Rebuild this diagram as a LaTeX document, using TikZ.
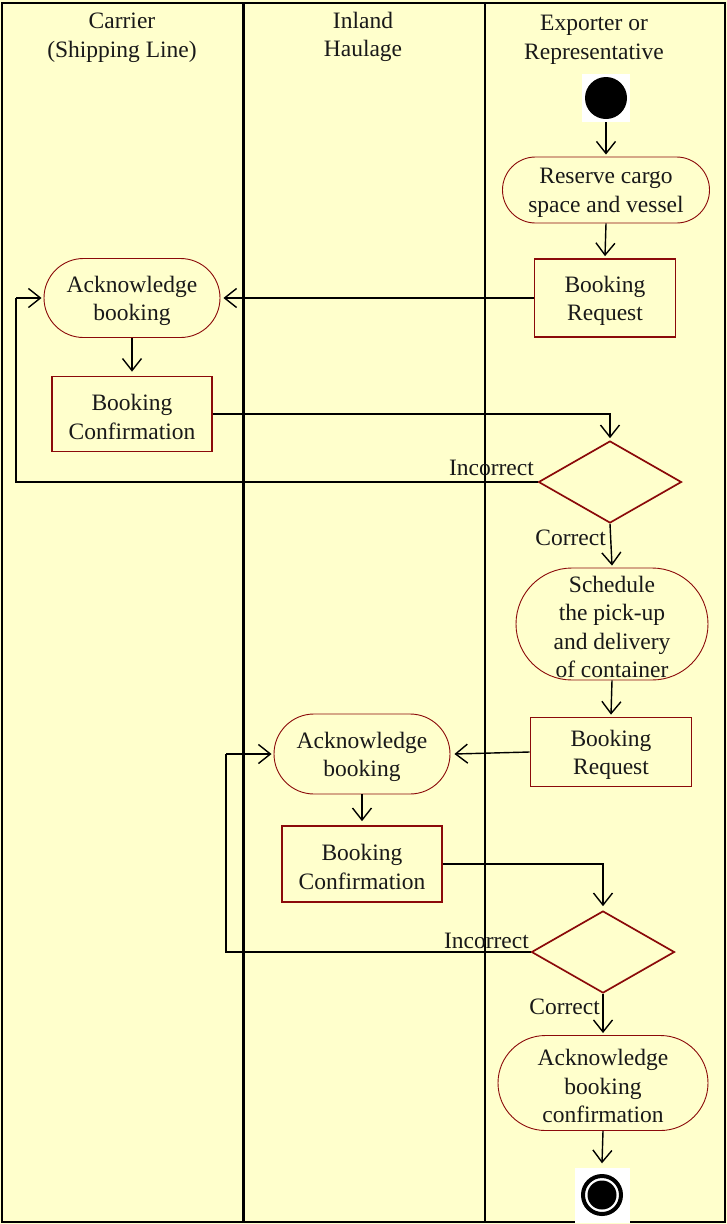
\documentclass[tikz,border=0pt]{standalone}
\usepackage{fontspec}
\setmainfont{Liberation Serif}
\usetikzlibrary{arrows.meta,shapes.geometric}
\definecolor{bg}{HTML}{FFFFCC}
\definecolor{dred}{HTML}{8B0A0A}
\newcommand\dl[1]{\raisebox{-3pt}[\height][\depth]{#1}}
\begin{document}
\begin{tikzpicture}[x=1pt,y=-1pt,
  txt/.style={font=\fontsize{23.5}{28.5}\selectfont, align=center, inner sep=0pt, text=black!90},
  act/.style={txt, draw=dred, line width=0.9pt, fill=bg},
  rect/.style={txt, draw=dred, line width=1.7pt, fill=bg},
  dec/.style={diamond, draw=dred, line width=1.7pt, fill=bg, inner sep=0pt, minimum width=143pt, minimum height=82pt},
  conn/.style={line width=1.4pt, -{Straight Barb[length=12pt,width=19pt,line width=1.4pt]}},
  wire/.style={line width=1.4pt},
  lane/.style={line width=2pt}
]
\useasboundingbox (0,0) rectangle (727,1224);
\fill[bg] (0,0) rectangle (727,1224);
\draw[lane] (2,3) rectangle (725,1222);
\draw[line width=3pt] (243,3) -- (243,1222);
\draw[lane] (485,3) -- (485,1222);

% headers
\node[txt] (h1) at (122,38) {Carrier\\(Shipping Line)};
\node[txt] (h2) at (363,37) {Inland\\Haulage};
\node[txt] (h3) at (594,40) {Exporter or\\Representative};

% start
\node[fill=white, minimum size=48pt, inner sep=0pt] (st) at (606,98) {};
\fill (st.center) circle (21);

\node[act, minimum width=207pt, minimum height=66pt, rounded corners=33pt] (rc) at (606,190) {\dl{Reserve cargo}\\\dl{space and vessel}};
\node[rect, minimum width=141pt, minimum height=78pt] (br1) at (605,298) {\dl{Booking}\\\dl{Request}};
\node[act, minimum width=176pt, minimum height=79pt, rounded corners=39.5pt] (a1) at (132,298) {\dl{Acknowledge}\\\dl{booking}};
\node[rect, minimum width=160pt, minimum height=75pt] (bc1) at (132,414) {\dl{Booking}\\\dl{Confirmation}};
\node[dec] (d1) at (610,482) {};
\node[act, minimum width=192pt, minimum height=112pt, rounded corners=56pt] (sc) at (612,624) {\dl{Schedule}\\\dl{the pick-up}\\\dl{and delivery}\\\dl{of container}};
\node[rect, minimum width=161pt, minimum height=69pt] (br2) at (611,752) {\dl{Booking}\\\dl{Request}};
\node[act, minimum width=176pt, minimum height=80pt, rounded corners=40pt] (a2) at (362,754) {\dl{Acknowledge}\\\dl{booking}};
\node[rect, minimum width=160pt, minimum height=76pt] (bc2) at (362,864) {\dl{Booking}\\\dl{Confirmation}};
\node[dec] (d2) at (603,952) {};
\node[act, minimum width=210pt, minimum height=95pt, rounded corners=47.5pt] (ac) at (603,1083) {\dl{Acknowledge}\\\dl{booking}\\\dl{confirmation}};

% end
\node[fill=white, minimum width=55pt, minimum height=55pt, inner sep=0pt] (en) at (602,1195) {};
\draw[line width=4pt] (en.center) circle (19);
\fill (en.center) circle (14.5);

% labels
\node[txt, anchor=east] (l1) at (534,468) {Incorrect};
\node[txt, anchor=east] (l2) at (606,538) {Correct};
\node[txt, anchor=east] (l3) at (529,941) {Incorrect};
\node[txt, anchor=east] (l4) at (600,1007) {Correct};

\coordinate (lp1) at (16,298);
\coordinate (lp2) at (226,754);

% connectors
\draw[conn] (st.south) -- ([yshift=2pt]rc.north);
\draw[conn] (rc.south) -- ([yshift=2pt]br1.north);
\draw[conn] (br1.west) -- ([xshift=3pt]a1.east);
\draw[conn] (a1.south) -- ([yshift=4pt]bc1.north);
\draw[conn] (bc1.east) -| ([yshift=2pt]d1.north);
\draw[wire] (d1.west) -| (lp1);
\draw[conn] (lp1) -- ([xshift=-2pt]a1.west);
\draw[conn] (d1.south) -- ([yshift=2pt]sc.north);
\draw[conn] (sc.south) -- ([yshift=2pt]br2.north);
\draw[conn] (br2.west) -- ([xshift=4pt]a2.east);
\draw[conn] (a2.south) -- ([yshift=4pt]bc2.north);
\draw[conn] (bc2.east) -| ([yshift=4pt]d2.north);
\draw[wire] (d2.west) -| (lp2);
\draw[conn] (lp2) -- ([xshift=-2pt]a2.west);
\draw[conn] (d2.south) -- ([yshift=2pt]ac.north);
\draw[conn] (ac.south) -- ([yshift=4pt]en.north);
\end{tikzpicture}
\end{document}
